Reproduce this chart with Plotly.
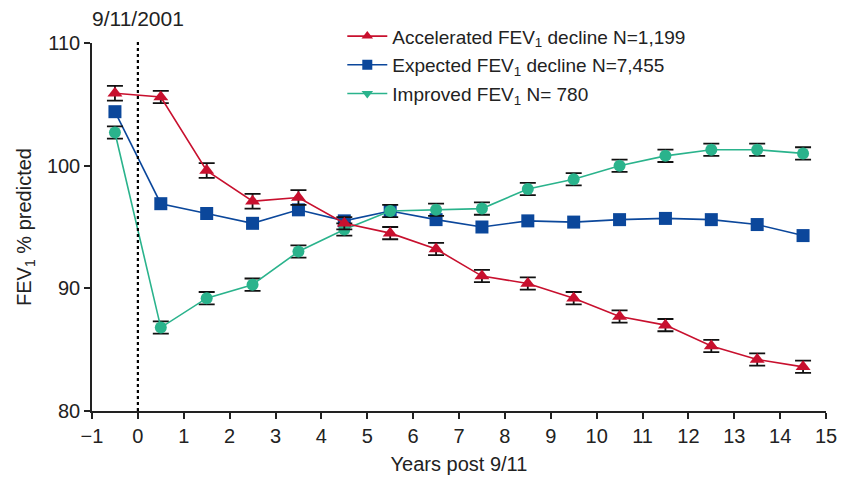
import plotly.graph_objects as go

years = [-0.5, 0.5, 1.5, 2.5, 3.5, 4.5, 5.5, 6.5, 7.5, 8.5, 9.5, 10.5, 11.5, 12.5, 13.5, 14.5]

accelerated = [105.9, 105.6, 99.6, 97.1, 97.4, 95.3, 94.5, 93.2, 91.0, 90.4, 89.2, 87.7, 87.0, 85.3, 84.2, 83.6]
accelerated_err = [0.6, 0.5, 0.6, 0.6, 0.6, 0.5, 0.5, 0.5, 0.5, 0.5, 0.5, 0.5, 0.5, 0.5, 0.5, 0.5]

expected = [104.4, 96.9, 96.1, 95.3, 96.4, 95.5, 96.3, 95.6, 95.0, 95.5, 95.4, 95.6, 95.7, 95.6, 95.2, 94.3]

improved = [102.7, 86.8, 89.2, 90.3, 93.0, 94.8, 96.3, 96.4, 96.5, 98.1, 98.9, 100.0, 100.8, 101.3, 101.3, 101.0]
improved_err = [0.5, 0.5, 0.5, 0.5, 0.5, 0.5, 0.5, 0.5, 0.5, 0.5, 0.5, 0.5, 0.5, 0.5, 0.5, 0.5]

names = ["Accelerated FEV<sub>1</sub> decline N=1,199",
         "Expected FEV<sub>1</sub> decline N=7,455",
         "Improved FEV<sub>1</sub> N= 780"]

RED = "#C8102E"
BLUE = "#0B479B"
GREEN = "#2AB38C"

fig = go.Figure()

def add_series(y, err, color, symbol, size):
    ey = dict(type="data", array=err, visible=True, color="#111111",
              thickness=1.8, width=8) if err is not None else None
    fig.add_trace(go.Scatter(
        x=years, y=y, mode="lines+markers",
        line=dict(color=color, width=1.6),
        marker=dict(color=color, symbol=symbol, size=size),
        error_y=ey,
        showlegend=False, hoverinfo="x+y"))

add_series(expected, None, BLUE, "square", 13)
add_series(improved, improved_err, GREEN, "circle", 12)
add_series(accelerated, accelerated_err, RED, "triangle-up", 13)

# legend-only entries
for nm, color, symbol, grp in [(names[0], RED, "triangle-up", "a"),
                               (names[1], BLUE, "square", "b"),
                               (names[2], GREEN, "triangle-down", "c")]:
    fig.add_trace(go.Scatter(
        x=[None], y=[None], mode="lines+markers", name=nm, legendgroup=grp,
        line=dict(color=color, width=1.6),
        marker=dict(color=color, symbol=symbol, size=10)))

# 9/11 dotted line
fig.add_shape(type="line", xref="x", yref="paper", x0=0, x1=0, y0=0, y1=1.01,
              line=dict(color="black", width=2.2, dash="dot"))

fig.add_annotation(x=0, xref="x", y=1.03, yref="paper", yanchor="bottom",
                   text="9/11/2001", showarrow=False,
                   font=dict(size=21, color="#222222"))

fig.update_layout(
    width=845, height=482,
    margin=dict(l=92, r=19, t=43, b=71),
    paper_bgcolor="white", plot_bgcolor="white",
    font=dict(family="Liberation Sans, Arial, sans-serif", color="#222222", size=20),
    legend=dict(x=0.341, y=1.07, xanchor="left", yanchor="top",
                font=dict(size=19), tracegroupgap=1, bgcolor="rgba(0,0,0,0)",
                itemwidth=40),
    xaxis=dict(range=[-1, 15], tickmode="array", tickvals=list(range(-1, 16)),
               ticktext=["\u22121"] + [str(v) for v in range(0, 16)],
               showgrid=False, zeroline=False, showline=True, linecolor="#222222",
               linewidth=1.5, ticks="outside", ticklen=6, tickwidth=1.5,
               tickcolor="#222222", tickfont=dict(size=20), automargin=False,
               title=dict(text="Years post 9/11", font=dict(size=20), standoff=11)),
    yaxis=dict(range=[80, 110], tickvals=[80, 90, 100, 110],
               showgrid=False, zeroline=False, showline=True, linecolor="#222222",
               linewidth=1.5, ticks="outside", ticklen=6, tickwidth=1.5,
               tickcolor="#222222", tickfont=dict(size=20), automargin=False,
               title=dict(text="FEV<sub>1</sub> % predicted", font=dict(size=20), standoff=10)),
)

fig.write_html("out.html")
